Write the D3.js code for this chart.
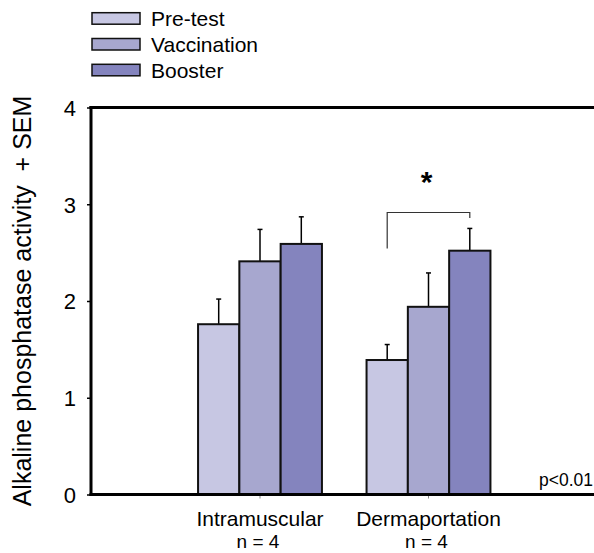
<!DOCTYPE html>
<html>
<head>
<meta charset="utf-8">
<script src="https://cdn.jsdelivr.net/npm/d3@7"></script>
<style>
  body { margin: 0; background: #fff; }
  text { font-family: "Liberation Sans", Arial, sans-serif; fill: #000; }
</style>
</head>
<body>
<svg width="594" height="553"></svg>
<script>
var categories = ["Intramuscular", "Dermaportation"];
var nLabels = ["n = 4", "n = 4"];
var series = ["Pre-test", "Vaccination", "Booster"];
var means = [[1.76, 2.41, 2.59], [1.39, 1.94, 2.52]];
var sems = [[0.26, 0.33, 0.28], [0.16, 0.35, 0.23]];
var yTicks = [0, 1, 2, 3, 4];
var colors = ["#c7c7e3", "#a7a7cf", "#8484be"];

var svg = d3.select("svg"),
    plotLeft = 91, plotRight = 594, plotTop = 107.5, plotBottom = 494.5;

var y = d3.scaleLinear().domain([0, 4]).range([plotBottom, plotTop]);

var x0 = d3.scaleBand().domain(categories).range([175.75, 512.75]);
var x1 = d3.scaleBand().domain(series).range([0, x0.bandwidth()]).paddingOuter(0.54);

// bars
var groups = svg.selectAll(".group")
    .data(categories)
    .enter().append("g")
    .attr("class", "group")
    .attr("transform", function(d) { return "translate(" + x0(d) + ",0)"; });

groups.each(function(c, ci) {
  var g = d3.select(this);
  var rows = series.map(function(s, si) { return {s: s, v: means[ci][si], e: sems[ci][si], i: si}; });

  g.selectAll(".err")
      .data(rows)
      .enter().append("line")
      .attr("x1", function(d) { return x1(d.s) + x1.bandwidth() / 2; })
      .attr("x2", function(d) { return x1(d.s) + x1.bandwidth() / 2; })
      .attr("y1", function(d) { return y(d.v); })
      .attr("y2", function(d) { return y(d.v + d.e); })
      .attr("stroke", "#000").attr("stroke-width", 1.5);

  g.selectAll(".cap")
      .data(rows)
      .enter().append("line")
      .attr("x1", function(d) { return x1(d.s) + x1.bandwidth() / 2 - 2.5; })
      .attr("x2", function(d) { return x1(d.s) + x1.bandwidth() / 2 + 2.5; })
      .attr("y1", function(d) { return y(d.v + d.e); })
      .attr("y2", function(d) { return y(d.v + d.e); })
      .attr("stroke", "#000").attr("stroke-width", 1.5);

  g.selectAll(".bar")
      .data(rows)
      .enter().append("rect")
      .attr("class", "bar")
      .attr("x", function(d) { return x1(d.s); })
      .attr("y", function(d) { return y(d.v); })
      .attr("width", x1.bandwidth())
      .attr("height", function(d) { return y(0) - y(d.v); })
      .attr("fill", function(d) { return colors[d.i]; })
      .attr("stroke", "#111").attr("stroke-width", 2);
});

// y axis
var yAxis = svg.append("g")
    .attr("transform", "translate(" + plotLeft + ",0)")
    .call(d3.axisLeft(y).tickValues(yTicks).tickSize(4).tickPadding(11).tickFormat(d3.format("d")));
yAxis.select(".domain").remove();
yAxis.selectAll("text").style("font-size", "22px").attr("dy", "0.36em");
yAxis.selectAll("line").attr("stroke", "#000").attr("stroke-width", 1.5);

// x axis ticks
var xAxis = svg.append("g")
    .attr("transform", "translate(0," + plotBottom + ")")
    .call(d3.axisBottom(x0).tickSize(4).tickFormat(""));
xAxis.select(".domain").remove();
xAxis.selectAll("line").attr("stroke", "#888").attr("stroke-width", 1);

// frame lines
svg.append("line").attr("x1", plotLeft).attr("x2", plotLeft).attr("y1", plotTop - 1.5).attr("y2", plotBottom + 1.5)
    .attr("stroke", "#000").attr("stroke-width", 3);
svg.append("line").attr("x1", plotLeft - 1.5).attr("x2", plotRight).attr("y1", plotBottom).attr("y2", plotBottom)
    .attr("stroke", "#000").attr("stroke-width", 3);
svg.append("line").attr("x1", plotLeft - 1.5).attr("x2", plotRight).attr("y1", plotTop).attr("y2", plotTop)
    .attr("stroke", "#000").attr("stroke-width", 3);

// category labels
svg.selectAll(".cat")
    .data(categories)
    .enter().append("text")
    .attr("x", function(d) { return x0(d) + x0.bandwidth() / 2; })
    .attr("y", 525.5)
    .attr("text-anchor", "middle")
    .style("font-size", "21px")
    .text(function(d) { return d; });

svg.selectAll(".nlab")
    .data(categories)
    .enter().append("text")
    .attr("x", function(d) { return x0(d) + x0.bandwidth() / 2 - 2; })
    .attr("y", 547.5)
    .attr("text-anchor", "middle")
    .style("font-size", "19px")
    .text(function(d, i) { return nLabels[i]; });

// y label
svg.append("text")
    .attr("transform", "rotate(-90)")
    .attr("x", -301)
    .attr("y", 31)
    .attr("text-anchor", "middle")
    .style("font-size", "25px")
    .style("white-space", "pre")
    .text("Alkaline phosphatase activity\u00a0 + SEM");

// significance bracket
var bx1 = x0("Dermaportation") + x1("Pre-test") + x1.bandwidth() / 2,
    bx2 = x0("Dermaportation") + x1("Booster") + x1.bandwidth() / 2;
svg.append("path")
    .attr("d", "M" + bx1 + "," + 248.5 + "V" + 212.5 + "H" + bx2 + "V" + 218)
    .attr("fill", "none").attr("stroke", "#333").attr("stroke-width", 1.2);
svg.append("text")
    .attr("x", (bx1 + bx2) / 2 - 2)
    .attr("y", 192)
    .attr("text-anchor", "middle")
    .style("font-size", "30px").style("font-weight", "bold")
    .text("*");

svg.append("text")
    .attr("x", 593).attr("y", 486)
    .attr("text-anchor", "end")
    .style("font-size", "17.5px")
    .text("p<0.01");

// legend
var legend = svg.selectAll(".legend")
    .data(series)
    .enter().append("g")
    .attr("transform", function(d, i) { return "translate(92," + (12.7 + i * 25.8) + ")"; });
legend.append("rect")
    .attr("width", 48).attr("height", 11.5)
    .attr("fill", function(d, i) { return colors[i]; })
    .attr("stroke", "#111").attr("stroke-width", 1.5);
legend.append("text")
    .attr("x", 59).attr("y", 13.5)
    .style("font-size", "21px")
    .text(function(d) { return d; });
</script>
</body>
</html>
